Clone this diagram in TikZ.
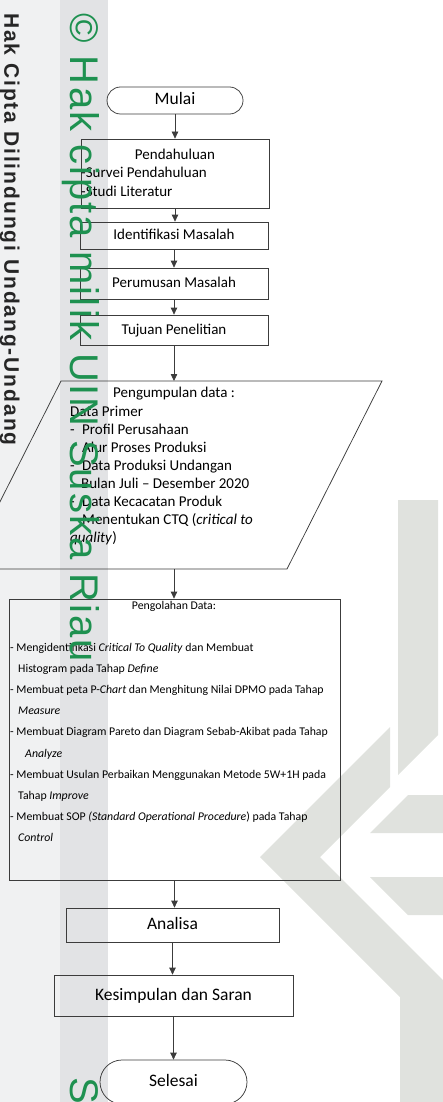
\documentclass[tikz,border=0pt]{standalone}
\usepackage{fontspec}
\setmainfont{Carlito}
\newfontfamily\wmfont[LetterSpace=5.5]{Liberation Sans}
\newfontfamily\hcfont[LetterSpace=9.2]{Liberation Sans}
\usetikzlibrary{shapes.misc,arrows.meta}
\definecolor{ln}{RGB}{60,60,60}
\definecolor{wmgreen}{RGB}{30,145,80}
\definecolor{stripA}{RGB}{240,241,242}
\definecolor{stripB}{RGB}{226,227,229}
\definecolor{logo}{RGB}{224,226,222}
\begin{document}
\begin{tikzpicture}[x=1pt,y=-1pt,
  box/.style={draw=ln,line width=0.75pt,inner sep=0pt},
  term/.style={draw=ln,line width=0.75pt,rounded rectangle,inner sep=0pt},
  arr/.style={draw=ln,line width=0.75pt,-{Triangle[length=7pt,width=6.5pt]}},
  bigf/.style={font=\fontsize{15}{18}\selectfont,text height=10pt,text depth=2pt},
  hugef/.style={font=\fontsize{17.5}{20}\selectfont,text height=11.5pt,text depth=2.5pt},
  txt/.style={anchor=base west,inner sep=0pt,font=\fontsize{15}{18}\selectfont},
  sml/.style={anchor=base west,inner sep=0pt,font=\fontsize{11.8}{14}\selectfont},
  wmtext/.style={rotate=-90,anchor=base west,inner sep=0pt}]
\useasboundingbox (0,0) rectangle (443,1102);
\clip (0,0) rectangle (443,1102);

% background watermark
\fill[stripA] (0,0) rectangle (60,1102);
\fill[stripB] (60,0) rectangle (108,1102);
\fill[logo] (398,500) -- (438,500) -- (438,735) -- (398,775) -- cycle;
\fill[logo] (390,727) -- (260,857) -- (400,997) -- (400,1102) -- (443,1102)
  -- (443,980) -- (320,857) -- (390,787) -- cycle;
\fill[logo] (408,795) -- (443,795) -- (443,833) -- (370,833) -- cycle;
\fill[logo] (370,877) -- (443,877) -- (443,915) -- (408,915) -- cycle;

% flowchart
\node[term,hugef,minimum width=136pt,minimum height=27pt] (mulai) at (175,100.5) {Mulai};
\node[box,minimum width=188pt,minimum height=69pt] (pend) at (175,173.5) {};
\node[box,bigf,minimum width=188pt,minimum height=27pt] (ident) at (174,235.5) {Identifikasi Masalah};
\node[box,bigf,minimum width=188pt,minimum height=31pt] (rumus) at (174,283.5) {Perumusan Masalah};
\node[box,bigf,minimum width=188pt,minimum height=30pt] (tujuan) at (174,330) {Tujuan Penelitian};
\draw[ln,line width=0.75pt] (61,381) -- (382,381) -- (287,569) -- (-34,569) -- cycle;
\coordinate (pgN) at (174,381);
\coordinate (pgS) at (174,569);
\node[box,minimum width=331pt,minimum height=281pt] (olah) at (174.5,739.5) {};
\node[box,hugef,minimum width=213pt,minimum height=34pt] (analisa) at (172.5,925) {Analisa};
\node[box,hugef,minimum width=239pt,minimum height=41pt] (simpul) at (173.5,995.5) {Kesimpulan dan Saran};
\node[term,hugef,minimum width=147pt,minimum height=44pt] (selesai) at (173.5,1082) {Selesai};

% texts inside Pendahuluan
\node[txt,anchor=base] (pendT) at (175,159.5) {Pendahuluan};
\node[txt] (pend1) at (81,178) {-Survei Pendahuluan};
\node[txt] (pend2) at (81,196.5) {-Studi Literatur};

% texts inside parallelogram
\node[txt] (pg0) at (113,397.5) {Pengumpulan data :};
\node[txt] (pg1) at (70,416.5) {Data Primer};
\node[txt] (pg2) at (70,434.5) {\makebox[12pt][l]{-}Profil Perusahaan};
\node[txt] (pg3) at (70,452.5) {\makebox[12pt][l]{-}Alur Proses Produksi};
\node[txt] (pg4) at (70,470.5) {\makebox[12pt][l]{-}Data Produksi Undangan};
\node[txt] (pg5) at (81,488.5) {Bulan Juli – Desember 2020};
\node[txt] (pg6) at (70,506.5) {\makebox[12pt][l]{-}Data Kecacatan Produk};
\node[txt] (pg7) at (70,524.5) {\makebox[12pt][l]{-}Menentukan CTQ (\textit{critical to}};
\node[txt] (pg8) at (70,542.5) {\textit{quality})};

% texts inside Pengolahan
\node[sml,anchor=base] (olT) at (174,609.5) {Pengolahan Data:};
\node[sml] (ol0) at (10,651.5) {- Mengidentifikasi \textit{Critical To Quality} dan Membuat};
\node[sml] (ol1) at (18,672.6) {Histogram pada Tahap \textit{Define}};
\node[sml] (ol2) at (10,693.7) {- Membuat peta P-\textit{Chart} dan Menghitung Nilai DPMO pada Tahap};
\node[sml] (ol3) at (18,714.8) {\textit{Measure}};
\node[sml] (ol4) at (10,735.9) {- Membuat Diagram Pareto dan Diagram Sebab-Akibat pada Tahap};
\node[sml] (ol5) at (25,757) {\textit{Analyze}};
\node[sml] (ol6) at (10,778.1) {- Membuat Usulan Perbaikan Menggunakan Metode 5W+1H pada};
\node[sml] (ol7) at (18,799.2) {Tahap \textit{Improve}};
\node[sml] (ol8) at (10,820.3) {- Membuat SOP \textit{(Standard Operational Procedure}) pada Tahap};
\node[sml] (ol9) at (18,841.4) {\textit{Control}};

% connectors
\draw[arr] (mulai.south) -- (mulai.south |- pend.north);
\draw[arr] (pend.south) -- (pend.south |- ident.north);
\draw[arr] (ident.south) -- (ident.south |- rumus.north);
\draw[arr] (rumus.south) -- (rumus.south |- tujuan.north);
\draw[arr] (tujuan.south) -- (tujuan.south |- pgN);
\draw[arr] (pgS) -- (pgS |- olah.north);
\draw[arr] (olah.south) -- (olah.south |- analisa.north);
\draw[arr] (analisa.south) -- (analisa.south |- simpul.north);
\draw[arr] (simpul.south) -- (simpul.south |- selesai.north);

% watermark texts
\node[wmtext,font=\hcfont\bfseries\fontsize{21}{21}\selectfont,text=black!85] (hc) at (4.5,13) {Hak Cipta Dilindungi Undang-Undang};
\node[wmtext,font=\wmfont\fontsize{40}{40}\selectfont,text=wmgreen] (wm) at (70,13) {© Hak cipta milik UIN Suska Riau};
\node[wmtext,font=\wmfont\fontsize{40}{40}\selectfont,text=wmgreen] (wm2) at (70,1077) {S};
\end{tikzpicture}
\end{document}
